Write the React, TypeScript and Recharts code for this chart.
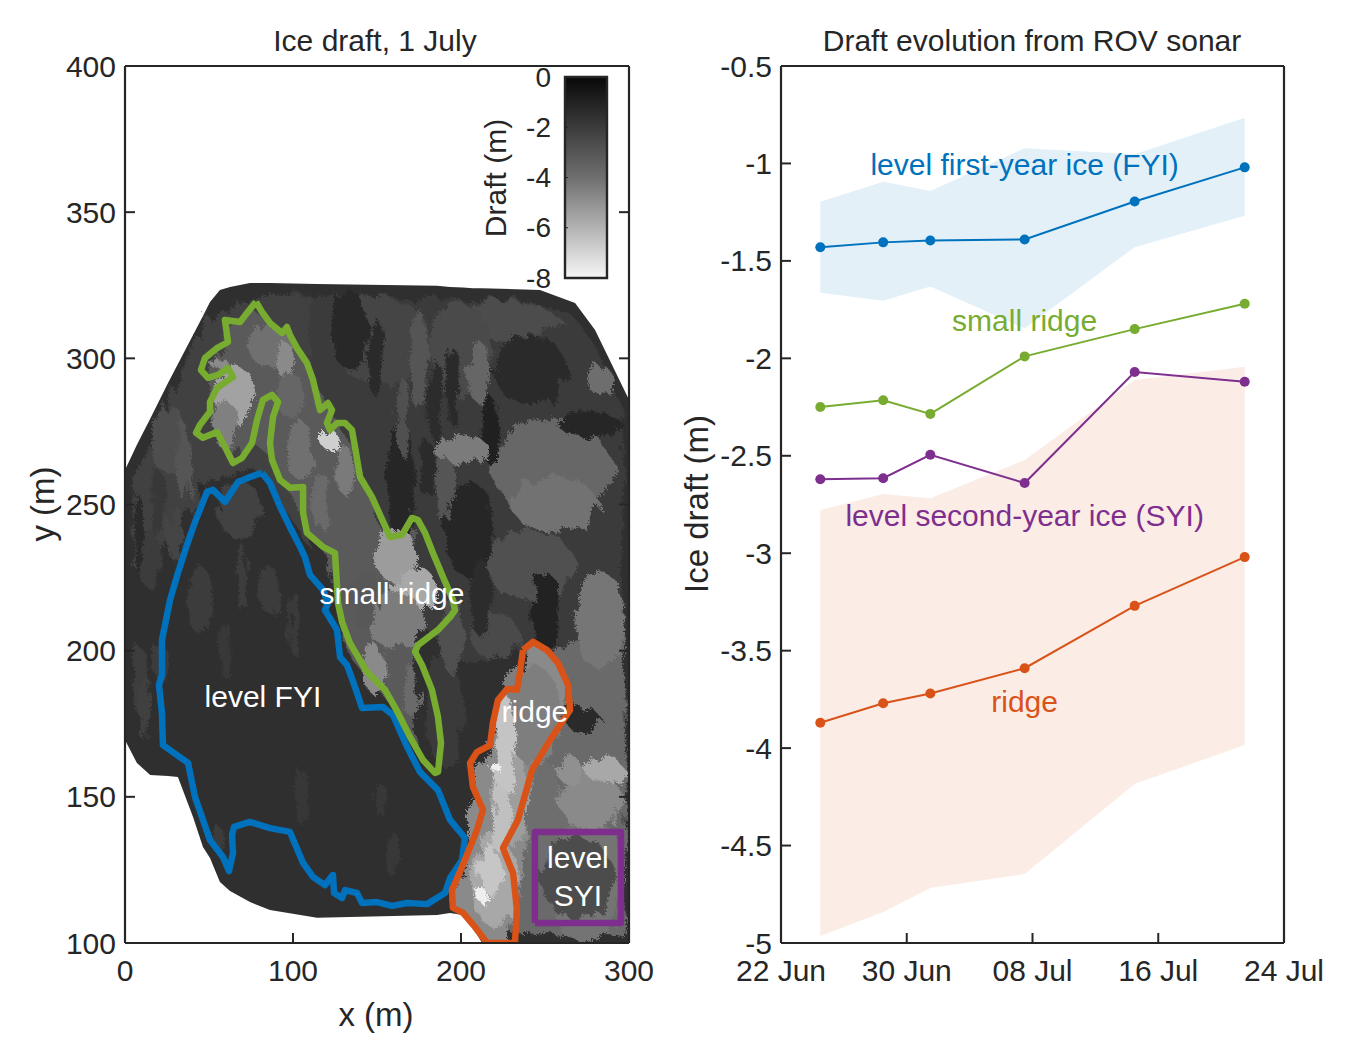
import React from 'react';
import { ComposedChart, Area, Line, XAxis, YAxis, ReferenceDot, ReferenceArea } from 'recharts';

const FONT = '"Liberation Sans", Arial, sans-serif';
const INK = '#262626';
const BLUE = '#0072BD';
const GREEN = '#77AC30';
const ORANGE = '#D95319';
const PURPLE = '#7E2F8E';

// ---------- left panel: draft map ----------
const mapXTicks = [0, 100, 200, 300];
const mapYTicks = [100, 150, 200, 250, 300, 350, 400];

// survey footprint: [x, lower y, upper y]
const footprint: [number, number, number][] = [
  [0, 169.4, 261.8], [7.1, 161.6, 270.4], [15, 157.5, 279.3], [25.6, 157.1, 291.6], [31.5, 156.8, 298.1],
  [40.5, 143.1, 308], [46.4, 132.8, 314.5], [50.6, 129.1, 319.3], [56.5, 120.9, 323.4], [62.5, 117.8, 324.4],
  [74.4, 114, 325.8], [86.3, 111.3, 325.8], [114.3, 108.6, 325.4], [185.7, 109.6, 324.8], [193.5, 110.3, 324.4],
  [201.2, 109.6, 324.2], [207.1, 105.5, 324], [212.5, 100, 324], [247, 100, 323.4], [267.9, 100, 318.9],
  [279.8, 100, 309.7], [300, 100, 285.8],
];

// broad tonal zones of the map: [x, lower y, upper y]
const zoneUpperRight: [number, number, number][] = [
  [100, 255, 322], [150, 225, 321], [200, 195, 320.5], [240, 200, 320], [266, 200, 315], [278, 200, 306], [296, 200, 283],
];
const zoneUpperLeft: [number, number, number][] = [
  [4, 228, 258], [25, 237, 286], [50, 258, 314], [80, 262, 321], [110, 235, 321],
];
const zoneLowerRight: [number, number, number][] = [
  [225, 103, 150], [240, 103, 196], [262, 103, 203], [298, 103, 208],
];
const zoneRidge: [number, number, number][] = [
  [195.5, 112, 118], [201, 110, 126], [209, 105, 160], [217, 100, 168], [222, 100, 183], [228, 100, 187],
  [234, 112, 192], [240, 145, 201], [245, 155, 203], [253, 170, 200], [258, 176, 195], [264, 180, 188],
];
const zoneSmallRidge: [number, number, number][] = [
  [50, 282, 300], [55, 275, 303], [62, 265, 310], [75, 272, 317], [87, 266, 312], [92, 258, 309], [100, 253, 306],
  [110, 240, 297], [120, 232, 284], [127, 210, 277], [135, 197, 270], [145, 190, 255], [155, 184, 238], [165, 176, 240], [172, 168, 243],
];

// shaded patches of the map: [x, y, half width, half height, grey]
const patches: [number, number, number, number, string][] = [
  [223, 313, 38, 7, '#4c4c4c'], [151.7, 306.2, 30, 15.4, '#454545'], [199.3, 302.8, 20, 17.1, '#4a4a4a'],
  [254.7, 261.8, 38.7, 18.8, '#676767'], [255.9, 249.8, 28.6, 9.6, '#727272'], [241, 229.3, 29.8, 12, '#505050'],
  [282.6, 292.5, 9, 4.8, '#6e6e6e'], [276.7, 277.2, 20.8, 4.1, '#262626'], [241, 296, 23.8, 12, '#2a2a2a'],
  [217.2, 275.4, 6, 12, '#202020'], [210.6, 295.3, 7.1, 10.9, '#666666'], [200.5, 268.6, 19, 4.8, '#7b7b7b'],
  [205.3, 241.2, 14.9, 17.1, '#262626'], [163.6, 258.3, 8.9, 20.5, '#262626'], [133.9, 309.6, 11.9, 13.7, '#282828'],
  [282.6, 210.5, 16, 17.1, '#767676'], [249.9, 213.9, 8.9, 13.7, '#222222'], [190, 180, 12, 20, '#3a3a3a'],
  [220, 205, 16, 8, '#4a4a4a'], [273.7, 121.5, 25, 22.2, '#747474'], [249.9, 142, 11.9, 20.5, '#6e6e6e'],
  [276.7, 148.9, 21, 10.3, '#8a8a8a'], [285.6, 159.2, 12, 4.8, '#a8a8a8'], [264.8, 159.2, 8.3, 4.8, '#909090'],
  [272.7, 176.3, 11.9, 4.1, '#2a2a2a'], [269.5, 122.2, 23.8, 14.4, '#4c4c4c'], [241, 178, 20, 18, '#7e7e7e'],
  [229.1, 148.9, 12, 17.1, '#9e9e9e'], [220.2, 121.5, 14, 17.1, '#a8a8a8'], [226.1, 167.7, 7, 18, '#c4c4c4'],
  [224, 142, 6, 12, '#c0c0c0'], [217.2, 125, 7.1, 8.6, '#c6c6c6'], [212.5, 116.4, 3, 3, '#eeeeee'],
  [220.2, 160.2, 3.5, 1.7, '#eeeeee'], [65.5, 287.4, 13.1, 10.3, '#a2a2a2'], [59.5, 277.2, 7.1, 8.6, '#808080'],
  [86.3, 304.5, 14, 7.5, '#707070'], [95.2, 299.4, 6, 6.2, '#8a8a8a'], [55.3, 298.7, 6, 2, '#8a8a8a'],
  [98.2, 287.4, 10.7, 7.5, '#666666'], [122, 272, 6, 3.4, '#cfcfcf'], [104.1, 268.6, 9, 10.3, '#707070'],
  [130.9, 261.8, 6, 8.6, '#7a7a7a'], [116, 251.5, 6, 10.3, '#6a6a6a'], [160.7, 232.7, 13.1, 9.6, '#9c9c9c'],
  [172.6, 220.7, 14.9, 7.5, '#a8a8a8'], [160.7, 210.5, 18, 10.3, '#7c7c7c'], [148.8, 193.4, 6, 9, '#8a8a8a'],
  [169.6, 186.5, 5, 9, '#6a6a6a'], [142.8, 217.3, 10, 10.3, '#585858'], [68.4, 248.1, 14, 10, '#424242'],
  [44.6, 217.3, 8, 12, '#3c3c3c'], [26.8, 272, 12, 12, '#4e4e4e'], [14.9, 231, 7, 10, '#3c3c3c'],
  [21, 195, 6, 7, '#3c3c3c'], [86.3, 220.7, 8, 8, '#3c3c3c'], [55, 136, 4, 4, '#3c3c3c'], [151.7, 148.9, 4, 6, '#383838'],
  [150, 300, 5, 14, '#2a2a2a'], [175, 300, 5, 18, '#555555'], [185, 285, 5, 15, '#2c2c2c'], [165, 280, 4, 14, '#505050'],
  [195, 290, 4, 14, '#2a2a2a'], [190, 255, 6, 12, '#555555'], [180, 262, 5, 10, '#2b2b2b'], [212, 218, 6, 14, '#2c2c2c'],
  [195, 205, 7, 14, '#505050'], [35, 265, 5, 14, '#555555'], [20, 250, 5, 12, '#383838'], [8, 240, 3, 14, '#2a2a2a'],
  [30, 240, 5, 10, '#454545'], [45, 250, 3, 8, '#2c2c2c'], [100, 210, 3, 12, '#3a3a3a'], [70, 225, 4, 12, '#3d3d3d'],
  [60, 200, 4, 10, '#383838'], [105, 150, 4, 10, '#373737'], [160, 130, 4, 8, '#383838'], [8, 190, 5, 12, '#3d3d3d'],
  [12, 180, 4, 12, '#404040'],
];

const contourFYI: [number, number][] = [
  [81.5, 260.8], [86.3, 257.4], [92.3, 249.2], [98.2, 242.3], [104.2, 235.5], [107.1, 232], [110.1, 225.9], [117.9, 220.8],
  [120.8, 216.3], [119, 213.9], [126.2, 207.1], [128, 197.8], [132.1, 195.1], [136.9, 187.6], [141.1, 180.4], [153.6, 180.7],
  [159.5, 178], [167.9, 167.1], [175.6, 158.5], [186.3, 152.3], [193.5, 142.1], [202.4, 135.9], [200.6, 128.4], [193.5, 122.2],
  [190.5, 117.1], [179.8, 113.3], [167.9, 113.7], [158.9, 112.7], [150, 114], [141.1, 113.7], [138.1, 117.1], [131, 118.1],
  [129.2, 115.4], [124.4, 117.1], [123.8, 123.3], [119, 119.8], [111.9, 122.6], [106, 127.4], [98.2, 138], [86.3, 139.3],
  [74.4, 141.4], [64.9, 139.7], [63.7, 136.9], [64.3, 130.8], [61.9, 124.6], [58.3, 129.4], [50.6, 135.2], [41.7, 149.9],
  [37.5, 161.6], [22.6, 167.7], [22, 178.7], [20.2, 188.3], [22, 191.7], [22, 203.7], [26.8, 217.3], [31.5, 226.6],
  [36.9, 236.2], [41.7, 244], [48.8, 254.3], [52.4, 255], [59.5, 250.9], [67.3, 257.7], [74.4, 259.4], [81.5, 260.8],
];

const contourSmallRidge: [number, number][] = [
  [78, 319.3], [81.5, 315.9], [86.3, 312.1], [93.5, 308.7], [96.4, 310.7], [98.2, 308], [102.4, 303.5], [108.3, 298.4],
  [111.9, 292.6], [116.1, 282.3], [120.8, 284.7], [123.2, 282.3], [120.2, 277.9], [122, 275.5], [126.2, 277.9], [131, 277.9],
  [135.1, 275.5], [136.9, 269.7], [139.9, 259.4], [147, 252.6], [157.7, 238.9], [164.9, 239.6], [170.8, 245.4], [174.4, 244.7],
  [178.6, 240.3], [183.3, 233.4], [189.3, 225.2], [195.2, 217.3], [196.4, 213.9], [193.5, 211.5], [186.3, 207.1], [174.4, 201.9],
  [172.6, 199.6], [176.8, 195.1], [182.7, 186.6], [186.3, 177.3], [188.1, 168.4], [186.3, 158.5], [184.5, 158.2], [177.4, 162.6],
  [169.6, 170.5], [162.5, 178.7], [154.8, 186.6], [144, 192.7], [133.9, 202.6], [129.2, 209.8], [126.8, 216.3], [125, 233.4],
  [117.9, 235.5], [108.3, 240.3], [106, 247.1], [106, 256], [98.2, 255.7], [92.3, 258.4], [87.5, 265.2], [86.3, 271],
  [88.1, 279.9], [91.1, 285.1], [87.5, 287.5], [82.1, 285.8], [78.6, 278.9], [75.6, 271], [69.6, 265.9], [64.3, 264.2],
  [59.5, 269.7], [54.8, 274.8], [46.4, 272.8], [42.3, 274.5], [44.6, 277.2], [50.6, 281.7], [50.6, 285.1], [54.8, 289.9],
  [64.3, 293.6], [61.3, 296.7], [55.4, 294.3], [49.4, 293.3], [45.2, 296], [47.6, 300.1], [54.8, 303.5], [61.3, 305.6],
  [59.5, 313.1], [68.5, 312.4], [73.2, 315.9], [78, 319.3],
];

const contourRidge: [number, number][] = [
  [236.9, 200.2], [242.9, 203], [251.2, 200.2], [257.7, 195.8], [263.7, 188.3], [264.9, 179.7], [253, 169.4], [242.3, 159.2],
  [233.9, 142.1], [225, 132.5], [231, 123.9], [233.3, 111.3], [232.1, 100], [215.5, 100], [208.3, 105.5], [201.2, 110.3],
  [195.2, 112], [194.6, 118.1], [200.6, 126], [209.5, 138.7], [213.1, 145.5], [207.1, 153.4], [205.4, 161.6], [209.5, 165.3],
  [217.3, 167.7], [219, 175.3], [222, 183.1], [227.4, 186.9], [233.3, 186.6], [235.1, 192.7], [236.9, 200.2],
];

const boxSYI: [number, number][] = [[244, 106.8], [295.2, 106.8], [295.2, 138], [244, 138], [244, 106.8]];

const toXY = (pts: [number, number][]) => pts.map(([x, y]) => ({ x, y }));
const toRange = (pts: [number, number, number][]) => pts.map(([x, lo, hi]) => ({ x, range: [lo, hi] }));
const footprintRows = toRange(footprint);
const zones: [[number, number, number][], string][] = [
  [zoneUpperRight, '#3b3b3b'], [zoneUpperLeft, '#414141'], [zoneLowerRight, '#6a6a6a'], [zoneRidge, '#8a8a8a'], [zoneSmallRidge, '#5a5a5a'],
];
const patchRows = patches.map(([x, y, w, h, fill]) => ({
  fill,
  rows: [
    { x: x - w, range: [y, y] },
    { x: x - 0.6 * w, range: [y - 0.8 * h, y + 0.8 * h] },
    { x, range: [y - h, y + h] },
    { x: x + 0.6 * w, range: [y - 0.8 * h, y + 0.8 * h] },
    { x: x + w, range: [y, y] },
  ],
}));

const mapLabels: [string, number, number][] = [
  ['small ridge', 158.9, 219.7], ['level FYI', 82.1, 184.5], ['ridge', 244, 179.4], ['level', 269.6, 129.4], ['SYI', 269.6, 116.4],
];

// ---------- colour bar ----------
const barTicks = [-8, -6, -4, -2, 0];
const barRows = [{ x: 0, span: [-8, 0] }, { x: 1, span: [-8, 0] }];

// ---------- right panel: draft evolution ----------
const dayTicks = [0, 8, 16, 24, 32];
const dayLabels = ['22 Jun', '30 Jun', '08 Jul', '16 Jul', '24 Jul'];
const draftTicks = [-5, -4.5, -4, -3.5, -3, -2.5, -2, -1.5, -1, -0.5];
const surveyDays = [2.5, 6.5, 9.5, 15.5, 22.5, 29.5];
const fyi = [-1.43, -1.405, -1.395, -1.39, -1.195, -1.02];
const smallRidge = [-2.25, -2.215, -2.285, -1.99, -1.85, -1.72];
const syi = [-2.62, -2.615, -2.495, -2.64, -2.07, -2.12];
const ridge = [-3.87, -3.77, -3.72, -3.59, -3.27, -3.02];
const fyiUpper = [-1.196, -1.094, -1.141, -0.922, -0.953, -0.765];
const fyiLower = [-1.663, -1.704, -1.632, -1.846, -1.43, -1.268];
const ridgeUpper = [-2.778, -2.696, -2.718, -2.522, -2.111, -2.043];
const ridgeLower = [-4.964, -4.841, -4.718, -4.646, -4.184, -3.984];

const evolutionRows = surveyDays.map((day, i) => ({
  day,
  fyi: fyi[i],
  smallRidge: smallRidge[i],
  syi: syi[i],
  ridge: ridge[i],
  fyiBand: [fyiLower[i], fyiUpper[i]],
  ridgeBand: [ridgeLower[i], ridgeUpper[i]],
}));

const seriesLabels: [string, number, number, string][] = [
  ['level first-year ice (FYI)', 15.5, -1.003, BLUE],
  ['small ridge', 15.5, -1.803, GREEN],
  ['level second-year ice (SYI)', 15.5, -2.804, PURPLE],
  ['ridge', 15.5, -3.758, ORANGE],
];

// ---------- axis ticks ----------
const txt = { fontFamily: FONT, fontSize: 30, fill: INK } as const;
const TICK = 10;
const TICKW = 2;

const LeftTick = (fmt?: (v: number) => string) => (p: any) => (
  <g>
    <line x1={p.x} x2={p.x + TICK} y1={p.y} y2={p.y} stroke={INK} strokeWidth={TICKW} />
    <text x={p.x - 9} y={p.y} textAnchor="end" dominantBaseline="central" {...txt}>
      {fmt ? fmt(p.payload.value) : p.payload.value}
    </text>
  </g>
);
const BottomTick = (fmt?: (v: number) => string) => (p: any) => (
  <g>
    <line x1={p.x} x2={p.x} y1={p.y} y2={p.y - TICK} stroke={INK} strokeWidth={TICKW} />
    <text x={p.x} y={p.y + 38} textAnchor="middle" {...txt}>
      {fmt ? fmt(p.payload.value) : p.payload.value}
    </text>
  </g>
);
const RightTick = (p: any) => <line x1={p.x} x2={p.x - TICK} y1={p.y} y2={p.y} stroke={INK} strokeWidth={TICKW} />;
const TopTick = (p: any) => <line x1={p.x} x2={p.x} y1={p.y} y2={p.y + TICK} stroke={INK} strokeWidth={TICKW} />;

const axisLine = { stroke: INK, strokeWidth: 2.2 };
const bare = { tickLine: false, tickSize: 0, tickMargin: 0, interval: 0 as const, axisLine };

const Title = ({ x, children }: { x: number; children: string }) => (
  <text x={x} y={51} textAnchor="middle" {...txt}>{children}</text>
);
const VTitle = ({ x, y, size, children }: { x: number; y: number; size: number; children: string }) => (
  <text x={x} y={y} textAnchor="middle" transform={`rotate(-90 ${x} ${y})`} {...txt} fontSize={size}>{children}</text>
);

const area = { isAnimationActive: false, dot: false, activeDot: false, stroke: 'none', fillOpacity: 1, legendType: 'none' as const };
const contour = { isAnimationActive: false, dot: false, activeDot: false, dataKey: 'y', strokeWidth: 6.5, strokeLinejoin: 'round' as const, legendType: 'none' as const, type: 'linear' as const };

const MapPanel = () => (
  <ComposedChart width={675} height={1050} margin={{ left: 124, right: 45, top: 65, bottom: 106 }} data={footprintRows}>
    <defs>
      <filter id="rough" x="-30%" y="-30%" width="160%" height="160%" colorInterpolationFilters="sRGB">
        <feTurbulence type="fractalNoise" baseFrequency="0.1 0.035" numOctaves="3" seed="7" result="n" />
        <feDisplacementMap in="SourceGraphic" in2="n" scale="16" result="d" />
        <feTurbulence type="fractalNoise" baseFrequency="0.55" numOctaves="2" seed="3" result="g" />
        <feDisplacementMap in="d" in2="g" scale="7" />
      </filter>
    </defs>
    <Area {...area} dataKey="range" data={footprintRows} fill="#2f2f2f" type="linear" />
    {zones.map(([z, fill], i) => (
      <Area key={'z' + i} {...area} dataKey="range" data={toRange(z)} fill={fill} type="linear" style={{ filter: 'url(#rough)' }} />
    ))}
    {patchRows.map((p, i) => (
      <Area key={i} {...area} dataKey="range" data={p.rows} fill={p.fill} type="linear" style={{ filter: 'url(#rough)' }} />
    ))}
    <Line {...contour} data={toXY(contourFYI)} stroke={BLUE} />
    <Line {...contour} data={toXY(contourSmallRidge)} stroke={GREEN} />
    <Line {...contour} data={toXY(contourRidge)} stroke={ORANGE} />
    <Line {...contour} data={toXY(boxSYI)} stroke={PURPLE} />
    {mapLabels.map(([value, x, y]) => (
      <ReferenceDot key={value} x={x} y={y} r={0} stroke="none" fill="none"
        label={{ value, position: 'center', fill: '#ffffff', fontSize: 30, fontFamily: FONT }} />
    ))}
    <XAxis dataKey="x" type="number" domain={[0, 300]} allowDataOverflow ticks={mapXTicks} height={1} tick={BottomTick()} {...bare} />
    <XAxis xAxisId="top" orientation="top" type="number" domain={[0, 300]} allowDataOverflow ticks={mapXTicks} height={1} tick={TopTick} {...bare} />
    <YAxis type="number" domain={[100, 400]} allowDataOverflow ticks={mapYTicks} width={1} tick={LeftTick()} {...bare} />
    <YAxis yAxisId="right" orientation="right" type="number" domain={[100, 400]} allowDataOverflow ticks={mapYTicks} width={1} tick={RightTick} {...bare} />
    <Title x={375}>Ice draft, 1 July</Title>
    <text x={376} y={1026} textAnchor="middle" {...txt} fontSize={33}>x (m)</text>
    <VTitle x={54} y={504} size={33}>y (m)</VTitle>
  </ComposedChart>
);

const ColourBar = () => (
  <ComposedChart width={200} height={240} margin={{ left: 124, right: 33, top: 17, bottom: 21 }} data={barRows}>
    <defs>
      <linearGradient id="draftGrad" x1="0" y1="0" x2="0" y2="1">
        <stop offset="0" stopColor="#080808" />
        <stop offset="0.5" stopColor="#6f6f6f" />
        <stop offset="1" stopColor="#f7f7f7" />
      </linearGradient>
    </defs>
    <Area {...area} dataKey="span" fill="url(#draftGrad)" type="linear" />
    <ReferenceArea x1={0} x2={1} y1={-8} y2={0} fill="none" stroke={INK} strokeWidth={2.4} />
    <XAxis dataKey="x" type="number" domain={[0, 1]} ticks={[0, 1]} height={1} tick={false} axisLine={false} tickLine={false} />
    <YAxis type="number" domain={[-8, 0]} ticks={barTicks} width={1} tickLine={false} tickSize={0} tickMargin={0} interval={0} axisLine={false}
      tick={(p: any) => (
        <g>
          <line x1={p.x} x2={p.x + 3} y1={p.y} y2={p.y} stroke={INK} strokeWidth={1} />
          <text x={p.x - 14} y={p.y} textAnchor="end" dominantBaseline="central" {...txt} fontSize={28}>{p.payload.value}</text>
        </g>
      )} />
    <VTitle x={66} y={118} size={30}>Draft (m)</VTitle>
  </ComposedChart>
);

const dayLabel = (v: number) => dayLabels[dayTicks.indexOf(v)];
const series = (key: string, color: string) => (
  <Line dataKey={key} stroke={color} strokeWidth={2} type="linear" isAnimationActive={false} activeDot={false}
    dot={{ r: 5, fill: color, stroke: color, strokeWidth: 0 }} legendType="none" />
);

const EvolutionPanel = () => (
  <ComposedChart width={675} height={1050} margin={{ left: 105, right: 65, top: 65, bottom: 106 }} data={evolutionRows}>
    <Area {...area} dataKey="fyiBand" fill="#E3F0F8" type="linear" />
    <Area {...area} dataKey="ridgeBand" fill="#FBECE6" type="linear" />
    {series('fyi', BLUE)}
    {series('smallRidge', GREEN)}
    {series('syi', PURPLE)}
    {series('ridge', ORANGE)}
    {seriesLabels.map(([value, x, y, color]) => (
      <ReferenceDot key={value} x={x} y={y} r={0} stroke="none" fill="none"
        label={{ value, position: 'center', fill: color, fontSize: 30, fontFamily: FONT }} />
    ))}
    <XAxis dataKey="day" type="number" domain={[0, 32]} ticks={dayTicks} height={1} tick={BottomTick(dayLabel)} {...bare} />
    <XAxis xAxisId="top" orientation="top" type="number" domain={[0, 32]} ticks={dayTicks} height={1} tick={TopTick} {...bare} />
    <YAxis type="number" domain={[-5, -0.5]} ticks={draftTicks} width={1} tick={LeftTick()} {...bare} />
    <YAxis yAxisId="right" orientation="right" type="number" domain={[-5, -0.5]} ticks={draftTicks} width={1} tick={RightTick} {...bare} />
    <Title x={357}>Draft evolution from ROV sonar</Title>
    <VTitle x={33} y={504} size={33}>Ice draft (m)</VTitle>
  </ComposedChart>
);

export default function App() {
  return (
    <div style={{ position: 'absolute', left: 0, top: 0, width: 1350, height: 1050, background: '#fff' }}>
      <div style={{ position: 'absolute', left: 0, top: 0 }}><MapPanel /></div>
      <div style={{ position: 'absolute', left: 440, top: 60 }}><ColourBar /></div>
      <div style={{ position: 'absolute', left: 675, top: 0 }}><EvolutionPanel /></div>
    </div>
  );
}
